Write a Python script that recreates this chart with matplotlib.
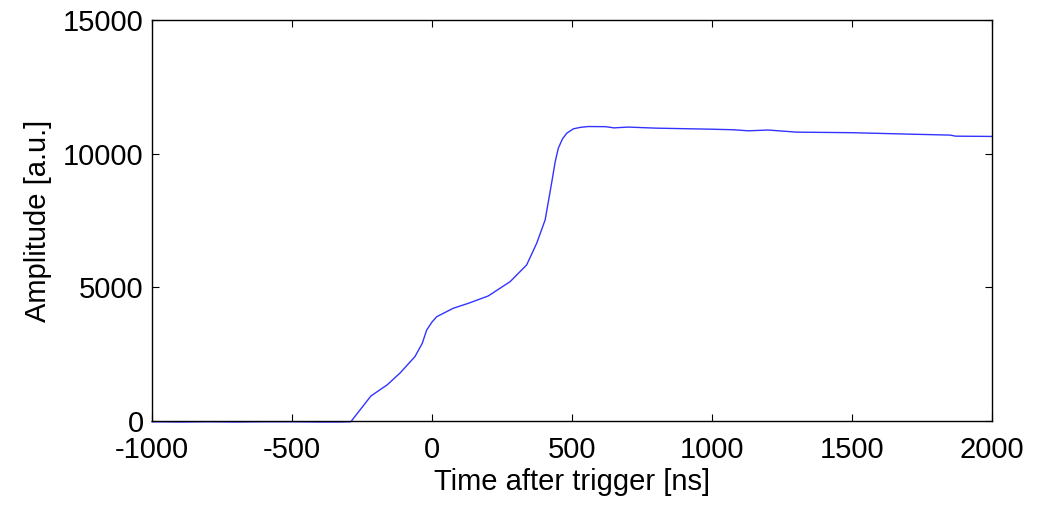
import numpy as np
import matplotlib
matplotlib.use("Agg")
import matplotlib.pyplot as plt

plt.rcParams['font.family'] = ['Liberation Sans', 'DejaVu Sans']
plt.rcParams['axes.unicode_minus'] = False

# waveform (ns, a.u.)
time_ns = [-1000, -900, -800, -700, -600, -500, -400, -330, -290,
           -218, -160, -114, -61, -35, -19, 0, 17, 76, 130, 201, 279, 338, 374,
           404, 427, 440, 451, 466, 481, 505, 530, 558, 620, 650, 700, 800,
           1000, 1075, 1130, 1200, 1303, 1500, 1707, 1850, 1870, 2000]
amplitude = [-30, -40, -30, -40, -30, -30, -40, -40, -30,
             935, 1350, 1795, 2405, 2900, 3400, 3700, 3900, 4215, 4400, 4675, 5210, 5835, 6650,
             7520, 8890, 9700, 10200, 10550, 10760, 10925, 10980, 11010, 11005, 10960, 10990, 10950,
             10910, 10890, 10850, 10880, 10800, 10780, 10725, 10690, 10650, 10640]

xticks = [-1000, -500, 0, 500, 1000, 1500, 2000]
yticks = [0, 5000, 10000, 15000]

fig = plt.figure(figsize=(10.41, 5.09), dpi=100)
ax = fig.add_axes([0.146, 0.173, 0.807, 0.788])
ax.plot(time_ns, amplitude, color='#3333ff', linewidth=1.0, clip_on=False)

ax.set_xlim(-1000, 2000)
ax.set_ylim(0, 15000)
ax.set_xticks(xticks)
ax.set_yticks(yticks)
ax.tick_params(direction='in', top=True, right=True, labelsize=21, length=5)
ax.tick_params(axis='x', pad=11)
ax.tick_params(axis='y', pad=6)
ax.set_xlabel("Time after trigger [ns]", fontsize=21, labelpad=3)
ax.set_ylabel("Amplitude [a.u.]", fontsize=21, labelpad=8)
for s in ax.spines.values():
    s.set_linewidth(1.0)

fig.savefig("out.png", dpi=100)
